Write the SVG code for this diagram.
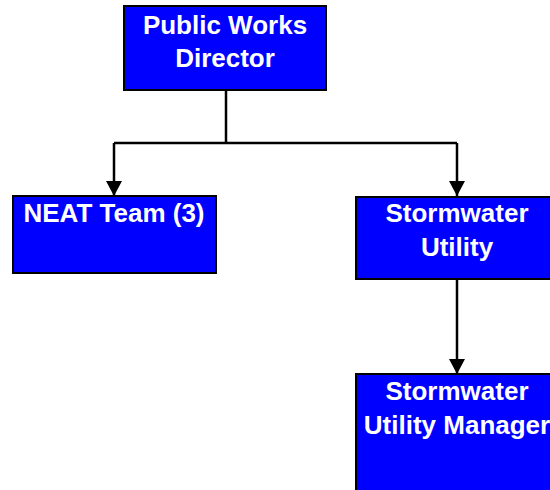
<svg xmlns="http://www.w3.org/2000/svg" width="550" height="490" viewBox="0 0 550 490">
<style>
.box{fill:#0000FF;stroke:#000;stroke-width:2}
.t{font-family:"Liberation Sans",Arial,sans-serif;font-weight:bold;font-size:26px;fill:#fff;text-anchor:middle}
.c{fill:none;stroke:#000;stroke-width:2.5}
</style>
<defs>
<marker id="ah" markerUnits="userSpaceOnUse" markerWidth="16" markerHeight="16" refX="14" refY="7.5" orient="auto" viewBox="0 0 14 15">
<path d="M0,0 L14,7.5 L0,15 Z" fill="#000"/>
</marker>
</defs>
<rect width="550" height="490" fill="#fff"/>
<g id="connectors">
<path class="c" d="M226,91 V143"/>
<path class="c" d="M114,143 H457"/>
<path class="c" d="M114,143 V196" marker-end="url(#ah)"/>
<path class="c" d="M457,143 V196" marker-end="url(#ah)"/>
<path class="c" d="M457,279 V374" marker-end="url(#ah)"/>
</g>
<g id="director">
<rect class="box" x="124" y="6" width="202" height="84"/>
<text class="t" x="225" y="34">Public Works</text>
<text class="t" x="225" y="67">Director</text>
</g>
<g id="neat">
<rect class="box" x="13" y="196" width="203" height="77"/>
<text class="t" x="114" y="222">NEAT Team (3)</text>
</g>
<g id="stormwater">
<rect class="box" x="356" y="197" width="203" height="82"/>
<text class="t" x="457" y="222">Stormwater</text>
<text class="t" x="457" y="256">Utility</text>
</g>
<g id="manager">
<rect class="box" x="356" y="374" width="203" height="130"/>
<text class="t" x="457" y="400">Stormwater</text>
<text class="t" x="457" y="434">Utility Manager</text>
</g>
</svg>
